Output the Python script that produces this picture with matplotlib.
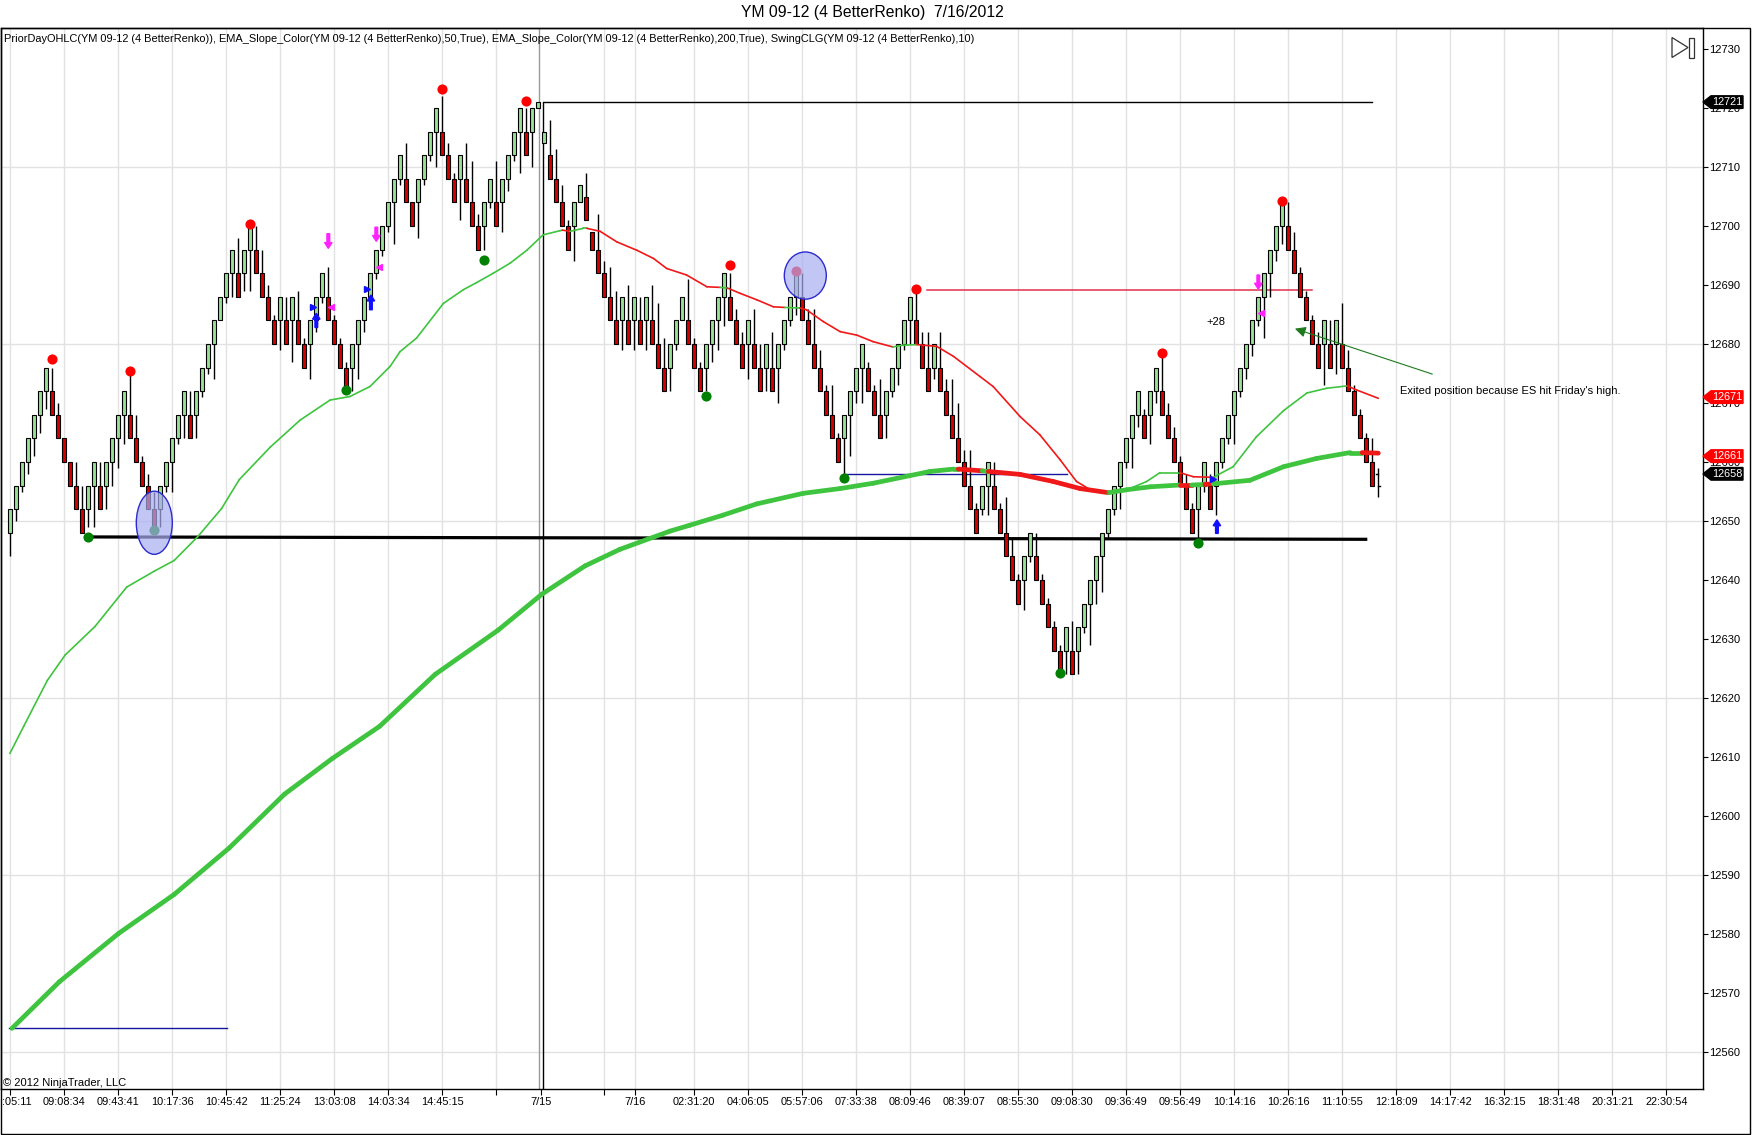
import numpy as np
import matplotlib
matplotlib.use("Agg")
import matplotlib.pyplot as plt
from matplotlib.patches import Rectangle, Ellipse, Polygon, FancyArrow
from matplotlib.collections import LineCollection
from matplotlib.transforms import blended_transform_factory

plt.rcParams['font.family'] = ['Liberation Sans', 'DejaVu Sans']

W, H = 1752, 1135

# renko brick lows (4 point bricks), one per bar, bars 1..228
lows = [
    12648, 12652, 12656, 12660, 12664, 12668, 12672, 12668, 12664, 12660,
    12656, 12652, 12648, 12652, 12656, 12652, 12656, 12660, 12664, 12668,
    12664, 12660, 12656, 12652, 12648, 12652, 12656, 12660, 12664, 12668,
    12664, 12668, 12672, 12676, 12680, 12684, 12688, 12692, 12688, 12692,
    12696, 12692, 12688, 12684, 12680, 12684, 12680, 12684, 12680, 12676,
    12680, 12684, 12688, 12684, 12680, 12676, 12672, 12676, 12680, 12684,
    12688, 12692, 12696, 12700, 12704, 12708, 12704, 12700, 12704, 12708,
    12712, 12716, 12712, 12708, 12704, 12708, 12704, 12700, 12696, 12700,
    12704, 12700, 12704, 12708, 12712, 12716, 12712, 12716, 12720, 12714,
    12708, 12704, 12700, 12696, 12700, 12704, 12701, 12696, 12692, 12688,
    12684, 12680, 12684, 12680, 12684, 12680, 12684, 12680, 12676, 12672,
    12676, 12680, 12684, 12680, 12676, 12672, 12676, 12680, 12684, 12688,
    12684, 12680, 12676, 12680, 12676, 12672, 12676, 12672, 12676, 12680,
    12684, 12688, 12684, 12680, 12676, 12672, 12668, 12664, 12660, 12664,
    12668, 12672, 12676, 12672, 12668, 12664, 12668, 12672, 12676, 12680,
    12684, 12680, 12676, 12672, 12676, 12672, 12668, 12664, 12660, 12656,
    12652, 12648, 12652, 12656, 12652, 12648, 12644, 12640, 12636, 12640,
    12644, 12640, 12636, 12632, 12628, 12624, 12628, 12624, 12628, 12632,
    12636, 12640, 12644, 12648, 12652, 12656, 12660, 12664, 12668, 12664,
    12668, 12672, 12668, 12664, 12660, 12656, 12652, 12648, 12652, 12656,
    12652, 12656, 12660, 12664, 12668, 12672, 12676, 12680, 12684, 12688,
    12692, 12696, 12700, 12696, 12692, 12688, 12684, 12680, 12676, 12680,
    12676, 12680, 12676, 12672, 12668, 12664, 12660, 12656,
]
short_bodies = {89: 1, 90: 2, 96: 3, 98: 3}   # bars whose body is not a full brick
up_override = {90: True}                       # first bar of the new session

# wick length beyond the body (points): below for up bars, above for down bars
wick = [
    4, 2, 1, 2, 3, 3, 3, 4, 2, 0, 0, 4, 4, 3, 7, 4, 4, 4, 5, 5,
    7, 4, 1, 2, 3, 3, 1, 5, 1, 4, 4, 4, 1, 1, 6, 0, 1, 4, 6, 3,
    7, 4, 4, 2, 1, 5, 4, 7, 5, 1, 6, 2, 1, 5, 1, 1, 1, 4, 6, 2,
    1, 1, 1, 1, 7, 1, 6, 0, 6, 1, 1, 6, 6, 2, 1, 7, 6, 7, 2, 4,
    1, 7, 5, 2, 1, 7, 4, 6, 0, 0, 6, 5, 3, 1, 6, 0, 4, 0, 6, 2,
    5, 5, 5, 6, 5, 4, 5, 6, 7, 5, 4, 1, 0, 7, 1, 1, 4, 3, 5, 5,
    4, 2, 2, 6, 6, 4, 4, 6, 6, 1, 1, 3, 4, 2, 6, 3, 1, 5, 1, 6,
    7, 2, 6, 1, 1, 6, 4, 1, 3, 1, 4, 5, 2, 6, 2, 6, 2, 6, 6, 2,
    6, 1, 1, 5, 4, 1, 6, 3, 1, 5, 1, 4, 1, 1, 1, 1, 4, 5, 4, 1,
    7, 4, 6, 1, 1, 4, 1, 5, 2, 1, 5, 2, 6, 2, 2, 1, 2, 1, 5, 1,
    2, 5, 1, 1, 5, 1, 2, 2, 1, 7, 4, 2, 3, 4, 3, 1, 1, 1, 2, 7,
    4, 5, 7, 3, 1, 1, 1, 4,
]
# forming bar at the right edge: bar, low, high, last
last_bar = (229, 12654, 12659, 12658)

# EMA(50) and EMA(200) slope-colour lines, colour of segment ending at each point
ema50_x = [0.93, 3.23, 7.18, 10.15, 15.1, 20.4, 25.0, 28.3, 32.2, 36.2, 39.15, 44.3,
           49.3, 54.3, 57.6, 60.95, 64.3, 65.95, 68.7, 73.2, 76.5, 78.7, 81.5, 84.3,
           87.1, 89.8, 92.6, 93.0, 94.3, 96.5, 97.1, 99.3, 102.1, 105.4, 108.2, 110.4,
           113.7, 117.1, 119.3, 120.5, 122.6, 125.4, 128.2, 130.1, 132.6, 133.7, 136.5,
           139.3, 142.1, 144.8, 148.1, 149.8, 152.1, 155.4, 158.2, 162.6, 164.8, 169.3,
           172.6, 175.95, 178.7, 181.0, 184.0, 187.1, 190.4, 192.6, 195.9, 198.2, 201.5,
           204.8, 208.7, 213.2, 217.1, 220.4, 223.8, 225.4, 229.0]
ema50_y = [12610.6, 12615.2, 12623.0, 12627.3, 12632.1, 12638.8, 12641.5, 12643.3,
           12647.3, 12652.1, 12657.0, 12662.5, 12667.1, 12670.5, 12671.1, 12672.8,
           12676.2, 12678.7, 12681.0, 12686.9, 12689.2, 12690.4, 12692.0, 12693.7,
           12695.9, 12698.5, 12699.2, 12699.3, 12699.1, 12699.6, 12699.6, 12699.1,
           12697.3, 12695.9, 12694.5, 12692.8, 12691.7, 12689.7, 12689.6, 12689.5,
           12688.6, 12687.5, 12686.3, 12686.2, 12686.1, 12685.8, 12683.8, 12682.1,
           12681.5, 12680.4, 12679.5, 12679.8, 12679.9, 12679.6, 12677.9, 12674.5,
           12672.8, 12667.7, 12664.6, 12660.4, 12656.7, 12655.3, 12654.8, 12655.3,
           12656.7, 12658.2, 12658.2, 12657.5, 12657.4, 12659.2, 12664.3, 12668.7,
           12671.7, 12672.5, 12672.9, 12672.2, 12670.8]
ema50_col = ("gggggggggggggggggggggggggggg" "r" "gg" "rrrrrrrr" "g" "rrrr" "g"
             "rrrrrr" "gg" "rrrrrrrrrr" "gggg" "rr" "gggggg" "rr")

ema200_x = [1.27, 9.17, 19.05, 28.3, 37.5, 46.7, 54.6, 62.55, 71.8, 82.3, 89.6, 96.8,
            102.6, 111.0, 114.3, 119.8, 125.4, 133.2, 139.3, 144.8, 154.3, 158.2, 159.0,
            163.0, 164.0, 169.3, 174.8, 179.3, 184.0, 187.1, 191.0, 195.9, 197.9, 200.1,
            201.5, 207.6, 213.2, 218.7, 224.3, 226.3, 229.0]
ema200_y = [12564.0, 12571.9, 12580.1, 12586.7, 12594.6, 12603.7, 12609.7, 12615.2,
            12624.0, 12631.5, 12637.6, 12642.4, 12645.2, 12648.3, 12649.3, 12651.0,
            12652.9, 12654.7, 12655.5, 12656.4, 12658.4, 12658.8, 12658.8, 12658.5,
            12658.4, 12657.9, 12656.7, 12655.5, 12654.8, 12655.3, 12655.8, 12656.1,
            12656.1, 12656.2, 12656.3, 12656.9, 12659.2, 12660.6, 12661.6, 12661.6,
            12661.5]
ema200_col = "ggggggggggggggggggggggg" "r" "g" "rrrr" "ggg" "r" "g" "r" "ggggg" "r"

# swing points
swing_hi_x = [8, 21, 41, 73, 87, 121, 132, 152, 193, 213]
swing_hi_y = [12677.4, 12675.4, 12700.3, 12723.3, 12721.2, 12693.4, 12692.3, 12689.3, 12678.4, 12704.3]
swing_lo_x = [14, 25, 57, 80, 117, 140, 176, 199]
swing_lo_y = [12647.3, 12648.5, 12672.2, 12694.2, 12671.2, 12657.3, 12624.3, 12646.2]

# signal arrows (bar, tail price, head price)
sell_arrows = [(54, 12698.7, 12696.2), (62, 12699.8, 12697.4), (209, 12691.7, 12689.3)]
buy_arrows = [(52, 12682.8, 12685.2), (61.1, 12685.8, 12688.3), (202.1, 12647.9, 12650.2)]
buy_marks = [(51.5, 12686.2), (60.5, 12689.3), (201.5, 12657.1)]
sell_marks = [(54.5, 12686.2), (62.5, 12693.1), (209.5, 12685.2)]

prior_high = 12721
price_flags = [(12721, 'black'), (12671, '#ff0000'), (12661, '#ff0000'), (12658, 'black')]

tick_pos = [1, 10, 19, 28, 37, 46, 55, 64, 73, 82, 89.5, 100, 105.1, 115, 124, 133, 142,
            151, 160, 169, 178, 187, 196, 205, 214, 223, 232, 241, 250, 259, 268, 277]
tick_text = [":05:11", "09:08:34", "09:43:41", "10:17:36", "10:45:42", "11:25:24",
             "13:03:08", "14:03:34", "14:45:15", "", "7/15", "", "7/16", "02:31:20",
             "04:06:05", "05:57:06", "07:33:38", "08:09:46", "08:39:07", "08:55:30",
             "09:08:30", "09:36:49", "09:56:49", "10:14:16", "10:26:16", "11:10:55",
             "12:18:09", "14:17:42", "16:32:15", "18:31:48", "20:31:21", "22:30:54"]

GREEN_BODY = '#98e098'
RED_BODY = '#d40000'
EMA_G = '#3ec43e'
EMA_R = '#f01818'


def px(x):
    return x / W


def py(y):
    return 1 - y / H


def bx(b):
    # bar number -> pixel column
    return 4.3 + 6 * b


fig = plt.figure(figsize=(W / 100, H / 100), dpi=100)
ax = fig.add_axes([px(1), py(1089.3), (1702.5 - 1) / W, (1089.3 - 28) / H])
ax.set_xlim(-0.55, 283.03)
ax.set_ylim(12553.68, 12733.56)
for s in ax.spines.values():
    s.set_color('black')
    s.set_linewidth(1)

# grid
for p in range(12560, 12731, 30):
    ax.axhline(p, color='#e2e2e2', lw=1, zorder=0)
for b, s in zip(tick_pos, tick_text):
    if s != "7/15":
        ax.axvline(b, color='#e2e2e2', lw=1, zorder=0)
ax.axvline(89.07, color='#9a9a9a', lw=1, zorder=1)

# axes ticks
ax.yaxis.tick_right()
ax.set_yticks(np.arange(12560, 12731, 10))
ax.tick_params(axis='y', direction='out', length=3.6, width=0.8, pad=1.5, labelsize=8)
ax.set_xticks(tick_pos)
ax.tick_params(axis='x', direction='out', length=4, width=0.8, labelbottom=False)

for b, s in zip(tick_pos, tick_text):
    if not s:
        continue
    if b == 1:
        # first label is cut by the left border in the original
        fig.text(px(2), py(1102), s, ha='left', va='center', fontsize=7.9)
    else:
        fig.text(px(bx(b)), py(1102), s, ha='center', va='center', fontsize=7.9)

# prior day high line
ax.plot([89.73, 89.73], [12553.68, prior_high], color='black', lw=1, zorder=2)
ax.plot([89.9, (1372 - 4.3) / 6], [prior_high, prior_high], color='black', lw=1, zorder=2)

# other drawn lines
ax.plot([14, 226.9], [12647.3, 12646.9], color='black', lw=2.3, zorder=2)
ax.plot([0.78, 37.1], [12564, 12564], color='#1515a0', lw=1, zorder=2)
ax.plot([139.9, 177.1], [12657.9, 12657.9], color='#1515a0', lw=1, zorder=2)
ax.plot([153.8, 218.0], [12689.2, 12689.2], color='#e3304a', lw=1.1, zorder=2)

# renko bars
lo = np.array(lows, float)
n = len(lo)
x = np.arange(1, n + 1)
hi = lo + 4
for b, h in short_bodies.items():
    hi[b - 1] = lo[b - 1] + h
up = np.r_[True, lo[1:] > lo[:-1]]
for b, v in up_override.items():
    up[b - 1] = v
ext = np.array(wick, float)
wlo = np.where(up, lo - ext, lo)
whi = np.where(up, hi, hi + ext)
ax.vlines(x, wlo, whi, color='black', lw=1, zorder=3)
ax.bar(x, hi - lo, bottom=lo, width=0.62, color=np.where(up, GREEN_BODY, RED_BODY),
       edgecolor='black', linewidth=0.8, zorder=4)
b, l, h, c = last_bar
ax.vlines([b], [l], [h], color='black', lw=1, zorder=3)
ax.plot([b - 0.35, b], [c, c], color='black', lw=1, zorder=3)
ax.plot([b, b + 0.35], [c - 2, c - 2], color='black', lw=1, zorder=3)


# slope coloured EMAs
def slope_line(xs, ys, cols, lw):
    pts = np.column_stack([xs, ys])
    segs = np.stack([pts[:-1], pts[1:]], axis=1)
    colors = [EMA_G if c == 'g' else EMA_R for c in cols[1:]]
    ax.add_collection(LineCollection(segs, colors=colors, linewidths=lw,
                                     capstyle='round', joinstyle='round', zorder=5))


slope_line(ema200_x, ema200_y, ema200_col, 3.4)
slope_line(ema50_x, ema50_y, ema50_col, 1.2)

# swing dots
ax.plot(swing_hi_x, swing_hi_y, 'o', color='#ff0000', ms=7.3, mec='none', zorder=6)
ax.plot(swing_lo_x, swing_lo_y, 'o', color='#008000', ms=7.3, mec='none', zorder=6)

# signal arrows
for b, y0, y1 in sell_arrows:
    ax.add_patch(FancyArrow(b, y0, 0, y1 - y0, width=0.45, head_width=1.25, head_length=1.0,
                            length_includes_head=True, color='#ff22ff', zorder=7))
for b, y0, y1 in buy_arrows:
    ax.add_patch(FancyArrow(b, y0, 0, y1 - y0, width=0.45, head_width=1.25, head_length=1.0,
                            length_includes_head=True, color='#1010ff', zorder=7))
ax.plot([m[0] for m in buy_marks], [m[1] for m in buy_marks], '>', color='#1010ff', ms=4, zorder=7)
ax.plot([m[0] for m in sell_marks], [m[1] for m in sell_marks], '<', color='#ff22ff', ms=4, zorder=7)

# highlight ellipses
for cx, cy, w, h in [(25.0, 12649.7, 6.0, 10.7), (133.5, 12691.6, 7.0, 8.0)]:
    ax.add_patch(Ellipse((cx, cy), w, h, facecolor='#a9aef0', alpha=0.7, edgecolor='none', zorder=8))
    ax.add_patch(Ellipse((cx, cy), w, h, facecolor='none', edgecolor='#2b2bd0', lw=1, zorder=8))

# annotations
ax.text(201.95, 12683.8, "+28", ha='center', va='center', fontsize=8, zorder=9)
ax.text(232.6, 12672.0, "Exited position because ES hit Friday's high.", ha='left',
        va='center', fontsize=8, zorder=9)
ax.annotate('', xy=(215.1, 12682.6), xytext=(238.0, 12674.9),
            arrowprops=dict(arrowstyle='-|>', color='#1e7a1e', lw=0.8,
                            mutation_scale=16, shrinkA=0, shrinkB=0), zorder=9)

# price flags on the axis
tr = blended_transform_factory(fig.transFigure, ax.transData)
hh = 6.3 / 5.9
for price, col in price_flags:
    pts = [(px(1703), price), (px(1711), price + hh), (px(1743), price + hh),
           (px(1743), price - hh), (px(1711), price - hh)]
    ax.add_patch(Polygon(pts, closed=True, transform=tr, facecolor=col, edgecolor=col,
                         clip_on=False, zorder=20))
    ax.text(px(1727), price, str(price), transform=tr, color='white', ha='center',
            va='center', fontsize=7.8, clip_on=False, zorder=21)

# outer frame, titles
fig.add_artist(Rectangle((px(1), py(1134)), px(1750) - px(1), py(28) - py(1134),
                         transform=fig.transFigure, fill=False, edgecolor='black', lw=1))
fig.add_artist(Polygon([(px(1672), py(37.5)), (px(1688), py(47.5)), (px(1672), py(57.5))],
                       closed=True, transform=fig.transFigure, fill=False,
                       edgecolor='#333333', lw=0.9))
fig.add_artist(Rectangle((px(1689), py(57.5)), px(4.5), py(37.5) - py(57.5),
                         transform=fig.transFigure, fill=False, edgecolor='#333333', lw=0.9))
fig.text(px(872), py(13), "YM 09-12 (4 BetterRenko)  7/16/2012", ha='center', va='center',
         fontsize=11.3)
fig.text(px(4), py(39), "PriorDayOHLC(YM 09-12 (4 BetterRenko)), "
         "EMA_Slope_Color(YM 09-12 (4 BetterRenko),50,True), "
         "EMA_Slope_Color(YM 09-12 (4 BetterRenko),200,True), "
         "SwingCLG(YM 09-12 (4 BetterRenko),10)", ha='left', va='center', fontsize=7.9)
fig.text(px(3), py(1083), "\u00a9 2012 NinjaTrader, LLC", ha='left', va='center', fontsize=8)

fig.savefig('out.png', dpi=100)
